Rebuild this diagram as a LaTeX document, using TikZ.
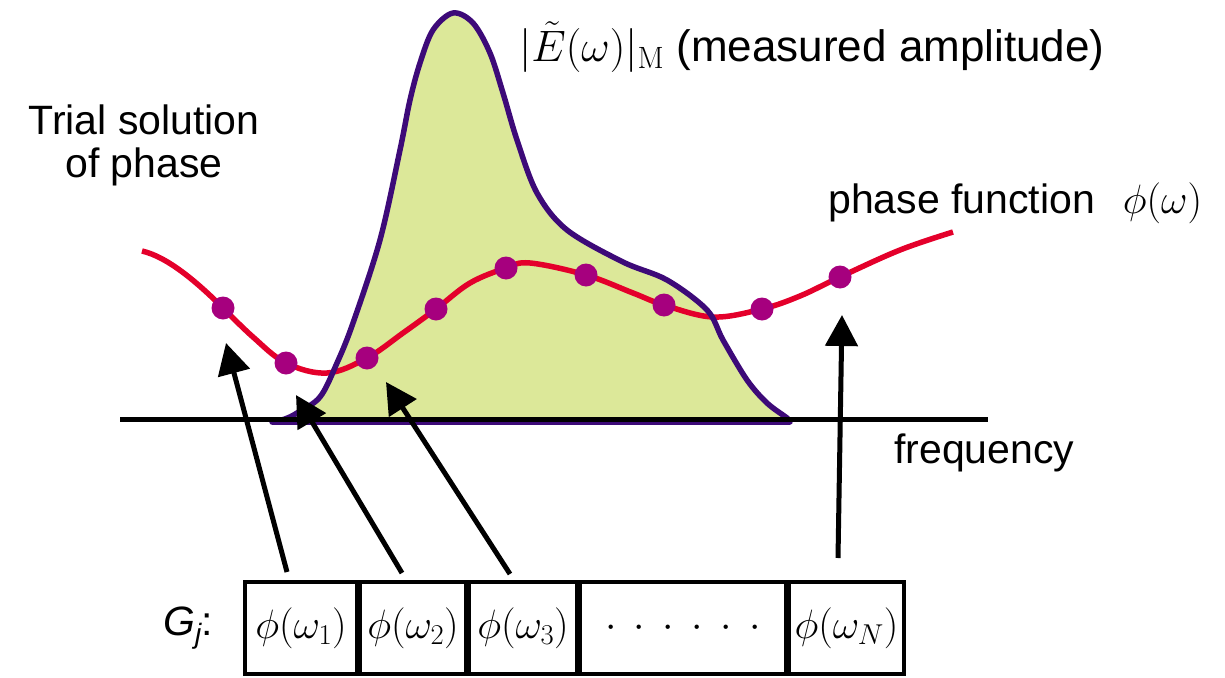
\RequirePackage{fix-cm}
\documentclass[tikz,border=0pt]{standalone}
\usepackage[no-math]{fontspec}
\setmainfont{Liberation Sans}
\usetikzlibrary{arrows.meta}
\definecolor{ampline}{RGB}{61,10,120}
\definecolor{ampfill}{RGB}{220,232,153}
\definecolor{phasered}{RGB}{228,0,43}
\definecolor{dotmag}{RGB}{166,0,126}
\newcommand\mysixdots{$\cdot$\hspace{17.5pt}$\cdot$\hspace{17.5pt}$\cdot$\hspace{17.5pt}$\cdot$\hspace{17.5pt}$\cdot$\hspace{17.5pt}$\cdot$}
\begin{document}
\begin{tikzpicture}[x=1pt,y=-1pt,
  dot/.style={circle,fill=dotmag,inner sep=0pt,minimum size=23pt},
  cell/.style={draw,line width=4.4pt,inner sep=0pt,minimum height=92pt,font=\fontsize{41}{48}\selectfont},
  ptr/.style={line width=5pt,-{Triangle[length=31pt,width=32pt]}},
  lbl/.style={font=\fontsize{41}{43}\selectfont,inner sep=0pt}]
\useasboundingbox (0,0) rectangle (1225,677);
% amplitude fill
\fill[ampfill] plot[smooth,tension=0.55] coordinates {(272,422) (285,419) (297,413) (320,397) (337,363) (353,323) (380,240) (400,150) (410,100) (420,63) (433,30) (453,13) (473,23) (490,53) (503,93) (517,140) (537,193) (567,230) (623,262) (667,280) (707,310) (723,340) (747,380) (767,403) (787,418) (790,422)} -- cycle;
% axis
\draw[line width=5pt] (120,419) coordinate (ax1) -- (988,419) coordinate (ax2);
% red phase curve
\draw[phasered,line width=5.5pt] (142,251) .. controls (168,257) and (198,283) .. (223,308);
\draw[phasered,line width=5.5pt] plot[smooth,tension=0.6] coordinates {(223,308) (253,337) (286,363) (327,373) (367,358) (403,333) (436,309) (470,283) (506,268) (530,263) (586,275) (633,293) (664,305) (713,317) (762,309) (800,296) (840,277) (900,250) (953,232)};
% amplitude outline
\draw[ampline,line width=5.5pt,line join=round] plot[smooth,tension=0.55] coordinates {(272,422) (285,419) (297,413) (320,397) (337,363) (353,323) (380,240) (400,150) (410,100) (420,63) (433,30) (453,13) (473,23) (490,53) (503,93) (517,140) (537,193) (567,230) (623,262) (667,280) (707,310) (723,340) (747,380) (767,403) (787,418) (790,422)} -- cycle;
\draw[line width=5pt] (ax1) -- (ax2);
% dots
\node[dot] (d1) at (223,308) {};
\node[dot] (d2) at (286,363) {};
\node[dot] (d3) at (367,358) {};
\node[dot] (d4) at (436,309) {};
\node[dot] (d5) at (506,268) {};
\node[dot] (d6) at (586,275) {};
\node[dot] (d7) at (664,305) {};
\node[dot] (d8) at (762,309) {};
\node[dot] (d9) at (840,277) {};
% boxes
\node[cell,minimum width=112pt] (b1) at (301,628) {$\phi(\omega_1)$};
\node[cell,minimum width=106pt] (b2) at (413,628) {$\phi(\omega_2)$};
\node[cell,minimum width=108pt] (b3) at (523,628) {$\phi(\omega_3)$};
\node[cell,minimum width=206pt] (b4) at (683,628) {\mysixdots};
\node[cell,minimum width=115pt] (b5) at (846.5,628) {$\phi(\omega_N)$};
% arrows
\coordinate (s1) at (287,572); \coordinate (t1) at (226,343);
\coordinate (s2) at (402,573); \coordinate (t2) at (296,395);
\coordinate (s3) at (510,574); \coordinate (t3) at (386,382);
\coordinate (s4) at (838,558); \coordinate (t4) at (842,315);
\draw[ptr] (s1) -- (t1);
\draw[ptr] (s2) -- (t2);
\draw[ptr] (s3) -- (t3);
\draw[ptr] (s4) -- (t4);
% labels
\node[lbl,anchor=base west,font=\fontsize{44}{50}\selectfont] (amp) at (519,62) {$|\tilde{E}(\omega)|_{\mathrm{M}}$ (measured amplitude)};
\node[lbl,anchor=base,align=center] (trial) at (144,177) {Trial solution\\of phase};
\node[lbl,anchor=base west] (pf) at (828,213) {phase function\hspace{28pt}$\phi(\omega)$};
\node[lbl,anchor=base west] (freq) at (894,463) {frequency};
\node[lbl,anchor=base west] (gj) at (163,635) {\itshape G\raisebox{-8pt}{\fontsize{28}{30}\selectfont j}\upshape:};
\end{tikzpicture}
\end{document}
